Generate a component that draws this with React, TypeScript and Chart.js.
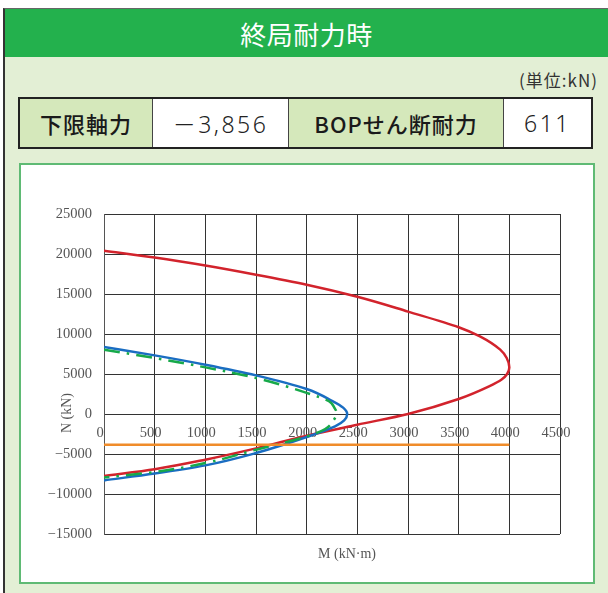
import React, { useEffect, useRef } from "react";
import { Chart, registerables } from "chart.js";

Chart.register(...registerables);

// ---- Data (M in kN·m, N in kN) ----
const redM = [0, 500, 1000, 1500, 2000, 2500, 3000, 3500, 3710, 3910, 3974, 4000, 3978, 3924, 3800, 3500, 3000, 2500, 2000, 1500, 1000, 500, 0];
const redN = [20400, 19550, 18550, 17400, 16150, 14650, 12800, 10850, 9700, 8040, 7000, 5800, 5000, 4300, 3450, 1870, 0, -1340, -2710, -4300, -5710, -6900, -7750];

const blueM = [0, 500, 1000, 1500, 2000, 2250, 2360, 2400, 2370, 2280, 2000, 1500, 1000, 500, 0];
const blueN = [8380, 7330, 6160, 4830, 3120, 1650, 800, 0, -800, -1550, -2880, -4880, -6420, -7450, -8300];

const greenM = [0, 500, 1000, 1500, 2000, 2220, 2275, 2295, 2265, 2183, 2000, 1500, 1000, 500, 0];
const greenN = [8040, 7000, 5830, 4500, 2640, 1590, 750, 150, -800, -1880, -2800, -4460, -6130, -7250, -7950];

const orangeM = [0, 4000];
const orangeN = [-3856, -3856];

const xMin = 0, xMax = 4500, xStep = 500;
const yMin = -15000, yMax = 25000, yStep = 5000;

const headerTitle = "終局耐力時";
const unitLabel = "(単位:kN)";
const tableCells = ["下限軸力", "－3,856", "BOPせん断耐力", "611"];
const xTitle = "M (kN·m)";
const yTitle = "N (kN)";

const toPts = (ms: number[], ns: number[]) => ms.map((m, i) => ({ x: m, y: ns[i] }));
const fmt = (v: number) => (v < 0 ? "−" + Math.abs(v) : String(v));

const titlesPlugin = {
  id: "axisTitles",
  afterDraw(chart: any) {
    const ctx = chart.ctx;
    ctx.save();
    ctx.fillStyle = "#555";
    ctx.font = "14px 'Liberation Serif', serif";
    ctx.textAlign = "center";
    ctx.textBaseline = "middle";
    ctx.fillText(xTitle, 327, 390);
    ctx.translate(47, 249);
    ctx.rotate(-Math.PI / 2);
    ctx.fillText(yTitle, 0, 0);
    ctx.restore();
  },
};

function NMChart() {
  const ref = useRef<HTMLCanvasElement>(null);
  useEffect(() => {
    if (!ref.current) return;
    const tickFont = { family: "'Liberation Serif', serif", size: 14.5 };
    const curve = { showLine: true, borderWidth: 2.5, pointRadius: 0, indexAxis: "y", cubicInterpolationMode: "monotone" };
    const chart = new Chart(ref.current, {
      type: "scatter",
      data: {
        datasets: [
          { data: toPts(orangeM, orangeN), showLine: true, borderColor: "#f08c2a", borderWidth: 2.5, pointRadius: 0, order: 0 },
          { ...curve, data: toPts(greenM, greenN), borderColor: "#17a94a", borderDash: [16, 7, 2.5, 7], order: 1 },
          { ...curve, data: toPts(blueM, blueN), borderColor: "#1a6dc2", order: 2 },
          { ...curve, data: toPts(redM, redN), borderColor: "#d2232c", order: 3 },
        ],
      },
      options: {
        animation: false,
        responsive: false,
        maintainAspectRatio: false,
        layout: { padding: { left: 0, top: 50, right: 33, bottom: 48 } },
        plugins: { legend: { display: false }, tooltip: { enabled: false } },
        scales: {
          x: {
            type: "linear",
            position: { y: 0 } as any,
            min: xMin,
            max: xMax,
            ticks: { stepSize: xStep, autoSkip: false, maxRotation: 0, padding: 10, labelOffset: -4, font: tickFont, color: "#555", callback: (v: any) => fmt(Number(v)) },
            grid: { color: "#333", lineWidth: 1, drawTicks: false },
            border: { display: false },
          },
          y: {
            type: "linear",
            position: "left",
            min: yMin,
            max: yMax,
            ticks: { stepSize: yStep, padding: 12, font: tickFont, color: "#555", callback: (v: any) => fmt(Number(v)) },
            grid: { color: "#333", lineWidth: 1, drawTicks: false },
            border: { display: true, color: "#555" },
            afterFit(scale: any) {
              scale.width = 84;
            },
          },
        },
      },
      plugins: [titlesPlugin],
    } as any);
    return () => chart.destroy();
  }, []);
  return <canvas ref={ref} width={573} height={418} style={{ position: "absolute", left: 20, top: 164, width: 573, height: 418 }} />;
}

export default function App() {
  const cellBase: React.CSSProperties = {
    height: "100%",
    display: "flex",
    alignItems: "center",
    justifyContent: "center",
    boxSizing: "border-box",
  };
  const widths = [134, 136, 215, 90];
  const labelStyle: React.CSSProperties = { fontFamily: "'Noto Sans CJK JP', sans-serif", fontWeight: 500, fontSize: 22, letterSpacing: 1, color: "#1a1a1a", background: "#d5e8bb" };
  const valueStyle: React.CSSProperties = { fontFamily: "'Noto Sans', 'Noto Sans CJK JP', sans-serif", fontWeight: 300, fontSize: 23, letterSpacing: 2.5, color: "#222", background: "#fff" };
  return (
    <div style={{ position: "fixed", left: 0, top: 0, width: 608, height: 593, background: "#fff", overflow: "hidden" }}>
      <div style={{ position: "absolute", left: 3, top: 8, width: 620, height: 600, borderLeft: "2px solid #333", borderTop: "1px solid #666", background: "#e3efd5" }} />
      <div
        style={{
          position: "absolute", left: 5, top: 9, width: 603, height: 48, background: "#23b14d",
          display: "flex", alignItems: "center", justifyContent: "center",
          color: "#fff", fontFamily: "'Noto Sans CJK JP', sans-serif", fontWeight: 400, fontSize: 26, letterSpacing: 0.5,
        }}
      >
        {headerTitle}
      </div>
      <div style={{ position: "absolute", right: 10, top: 69, fontFamily: "'Noto Sans CJK JP', sans-serif", fontSize: 17, letterSpacing: 1, color: "#333", lineHeight: "22px" }}>
        {unitLabel}
      </div>
      <div style={{ position: "absolute", left: 18, top: 97, width: 575, height: 52, border: "2px solid #222", boxSizing: "border-box", display: "flex", background: "#fff" }}>
        {tableCells.map((t, i) => (
          <div
            key={i}
            style={{
              ...cellBase,
              ...(i % 2 === 0 ? labelStyle : valueStyle),
              width: widths[i] - (i === 0 ? 2 : 0) - (i === 3 ? 2 : 0),
              borderLeft: i === 0 ? "none" : "1px solid #444",
            }}
          >
            {t}
          </div>
        ))}
      </div>
      <div style={{ position: "absolute", left: 19, top: 163, width: 576, height: 421, border: "2px solid #5fba74", boxSizing: "border-box", background: "#fff" }} />
      <NMChart />
    </div>
  );
}
